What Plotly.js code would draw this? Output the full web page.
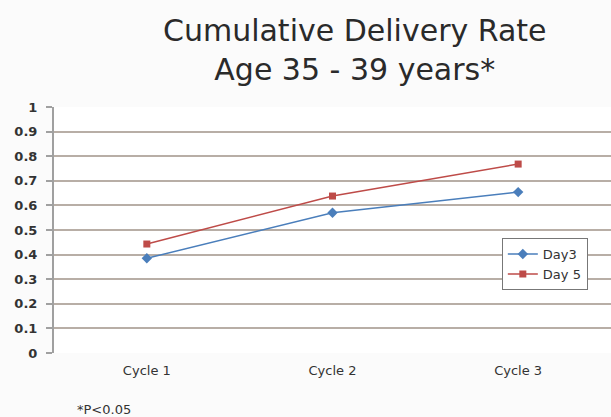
<!DOCTYPE html>
<html>
<head>
<meta charset="utf-8">
<script src="https://cdn.plot.ly/plotly-3.0.1.min.js"></script>
<style>html,body{margin:0;padding:0;background:#fbfbfb;}#chart{width:611px;height:417px;}</style>
</head>
<body>
<div id="chart"></div>
<script>
const categories = ["Cycle 1", "Cycle 2", "Cycle 3"];
const day3 = [0.385, 0.570, 0.654];
const day5 = [0.443, 0.638, 0.768];
const yTicks = [0, 0.1, 0.2, 0.3, 0.4, 0.5, 0.6, 0.7, 0.8, 0.9, 1];
const yTickText = ["0", "0.1", "0.2", "0.3", "0.4", "0.5", "0.6", "0.7", "0.8", "0.9", "1"];
const titleText = "Cumulative Delivery Rate<br>Age 35 - 39 years*";

const traces = [
  {x: categories, y: day3, name: "Day3", type: "scatter", mode: "lines+markers",
   line: {color: "#4a7ebb", width: 1.5}, marker: {symbol: "diamond", size: 8, color: "#4a7ebb"}},
  {x: categories, y: day5, name: "Day 5", type: "scatter", mode: "lines+markers",
   line: {color: "#be4b48", width: 1.5}, marker: {symbol: "square", size: 7, color: "#be4b48"}}
];

const layout = {
  width: 611, height: 417,
  margin: {l: 54, r: 0, t: 107, b: 64},
  paper_bgcolor: "#fbfbfb", plot_bgcolor: "#ffffff",
  font: {family: "DejaVu Sans, sans-serif", color: "#333"},
  title: {text: titleText, xref: "paper", x: 0.54, xanchor: "center", yref: "container", y: 0.902, yanchor: "middle",
          font: {size: 30, color: "#2a2a2a", family: "DejaVu Sans, sans-serif"}},
  showlegend: true,
  legend: {x: 0.804, y: 0.467, xanchor: "left", yanchor: "top", bordercolor: "#777", borderwidth: 1,
           bgcolor: "#ffffff", font: {size: 13, color: "#333"}, tracegroupgap: 0},
  xaxis: {type: "category", range: [-0.5, 2.5], showgrid: false, zeroline: false, showline: false, ticks: "",
          tickfont: {size: 13, color: "#333"}, ticklabelstandoff: 8, fixedrange: true},
  yaxis: {range: [0, 1], tickvals: yTicks, ticktext: yTickText, showgrid: true, gridcolor: "#b8aea6", gridwidth: 2,
          zeroline: false, showline: true, linecolor: "#a0a0a0", linewidth: 2, ticks: "outside", ticklen: 6,
          tickcolor: "#a0a0a0", tickwidth: 2, ticklabelstandoff: 6,
          tickfont: {size: 13, color: "#333", family: "DejaVu Sans, sans-serif", weight: "bold"}},
  annotations: [
    {text: "*P<0.05", xref: "paper", yref: "paper", x: 0.037, y: -0.23, xanchor: "left", yanchor: "middle",
     showarrow: false, font: {size: 13, color: "#333"}}
  ]
};
Plotly.newPlot("chart", traces, layout, {displayModeBar: false, staticPlot: true});
</script>
</body>
</html>
